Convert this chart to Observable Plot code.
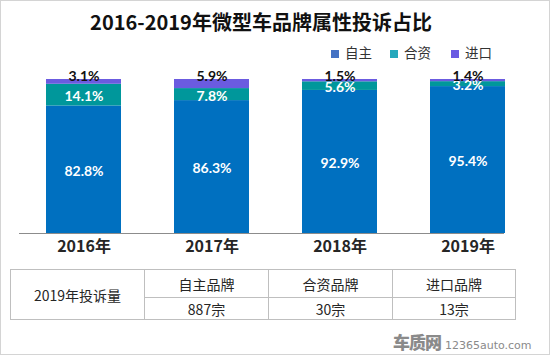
<!DOCTYPE html>
<html>
<head>
<meta charset="utf-8">
<script src="https://cdn.jsdelivr.net/npm/d3@7"></script>
<script src="https://cdn.jsdelivr.net/npm/@observablehq/plot@0.6"></script>
<style>
  html, body { margin: 0; padding: 0; background: #fff; }
  #wrap { position: relative; width: 550px; height: 356px; overflow: hidden; font-family: "Noto Sans CJK SC", "Noto Sans", sans-serif; }
  #frame { position: absolute; left: 0; top: 0; width: 550px; height: 355px; box-sizing: border-box; border: 1px solid #d4d4d4; }
  #title { position: absolute; left: 0; top: 8px; width: 522px; text-align: center; font-size: 20px; font-weight: bold; color: #111; line-height: 28px; }
  #legend { position: absolute; left: 331px; top: 43px; font-size: 13.5px; color: #333; line-height: 18px; white-space: nowrap; }
  #legend span.item { position: absolute; top: 0; }
  #legend i { display: inline-block; width: 8px; height: 8px; margin-right: 6px; vertical-align: 0px; }
  #chart { position: absolute; left: 0; top: 0; }
  #tbl { position: absolute; left: 10px; top: 269px; border-collapse: collapse; font-size: 14px; color: #262626; }
  #tbl td { border: 1px solid #bfbfbf; text-align: center; padding: 0; }
  #wm { position: absolute; left: 393px; top: 333px; color: #8a8a8a; white-space: nowrap; line-height: 18px; }
  #wm b { font-size: 17px; font-weight: 900; letter-spacing: -1px; }
  #wm span { font-family: "DejaVu Sans", sans-serif; font-size: 11px; margin-left: 4px; }
</style>
</head>
<body>
<div id="wrap">
  <div id="frame"></div>
  <div id="chart"></div>
  <div id="title"></div>
  <div id="legend"></div>
  <table id="tbl"></table>
  <div id="wm"><b>车质网</b><span>12365auto.com</span></div>
</div>
<script>
const title = "2016-2019年微型车品牌属性投诉占比";
const years = ["2016年", "2017年", "2018年", "2019年"];
const series = ["自主", "合资", "进口"];
const domestic = [82.8, 86.3, 92.9, 95.4];
const jointVenture = [14.1, 7.8, 5.6, 3.2];
const imported = [3.1, 5.9, 1.5, 1.4];
const barColors = ["#0070C0", "#00979B", "#6B5BE0"];
const legendColors = ["#4472C4", "#25A8BC", "#6A5AE2"];
const tableRowLabel = "2019年投诉量";
const tableHeads = ["自主品牌", "合资品牌", "进口品牌"];
const tableValues = ["887宗", "30宗", "13宗"];

const valuesBySeries = [domestic, jointVenture, imported];
const data = years.flatMap((yr, i) => series.map((s, j) => ({year: yr, series: s, value: valuesBySeries[j][i]})));
const fmt = v => v.toFixed(1) + "%";

document.getElementById("title").textContent = title;

const legend = document.getElementById("legend");
const legendX = [0, 59, 120];
series.forEach((s, j) => {
  const it = document.createElement("span");
  it.className = "item";
  it.style.left = legendX[j] + "px";
  it.innerHTML = `<i style="background:${legendColors[j]}"></i>${s}`;
  legend.appendChild(it);
});

const chart = Plot.plot({
  width: 550,
  height: 262,
  marginTop: 79,
  marginBottom: 29,
  marginLeft: 19,
  marginRight: 46,
  style: {background: "transparent", fontFamily: "Lato, 'Noto Sans CJK SC', sans-serif"},
  x: {domain: years, range: [19.5, 531.5], paddingInner: 0.414, paddingOuter: 0.207, label: null},
  y: {domain: [0, 100], axis: null},
  color: {domain: series, range: barColors},
  marks: [
    Plot.barY(data, {x: "year", y: "value", fill: "series", z: "series"}),
    Plot.ruleY([0], {stroke: "#8c8c8c", strokeWidth: 1}),
    Plot.axisX({tickSize: 0, tickPadding: 7, fontSize: 16, fontWeight: "bold", fill: "#262626", fontFamily: "'Noto Sans CJK SC', sans-serif", label: null}),
    Plot.text(data, Plot.stackY({
      x: "year", y: "value", z: "series",
      text: d => d.series === "进口" ? "" : fmt(d.value),
      fill: "white", fontSize: 14, fontWeight: "bold", dy: 1.5
    })),
    Plot.text(data, Plot.stackY2({
      x: "year", y: "value", z: "series",
      text: d => d.series === "进口" ? fmt(d.value) : "",
      fill: "#111", fontSize: 14, fontWeight: "bold", lineAnchor: "bottom", dy: 1
    }))
  ]
});
document.getElementById("chart").appendChild(chart);

const tbl = document.getElementById("tbl");
const colW = [133, 123, 123, 122];
let html = `<tr style="height:28px"><td rowspan="2" style="width:${colW[0]}px">${tableRowLabel}</td>`;
tableHeads.forEach((h, j) => html += `<td style="width:${colW[j+1]}px">${h}</td>`);
html += `</tr><tr style="height:22px">`;
tableValues.forEach(v => html += `<td>${v}</td>`);
html += `</tr>`;
tbl.innerHTML = html;
</script>
</body>
</html>
